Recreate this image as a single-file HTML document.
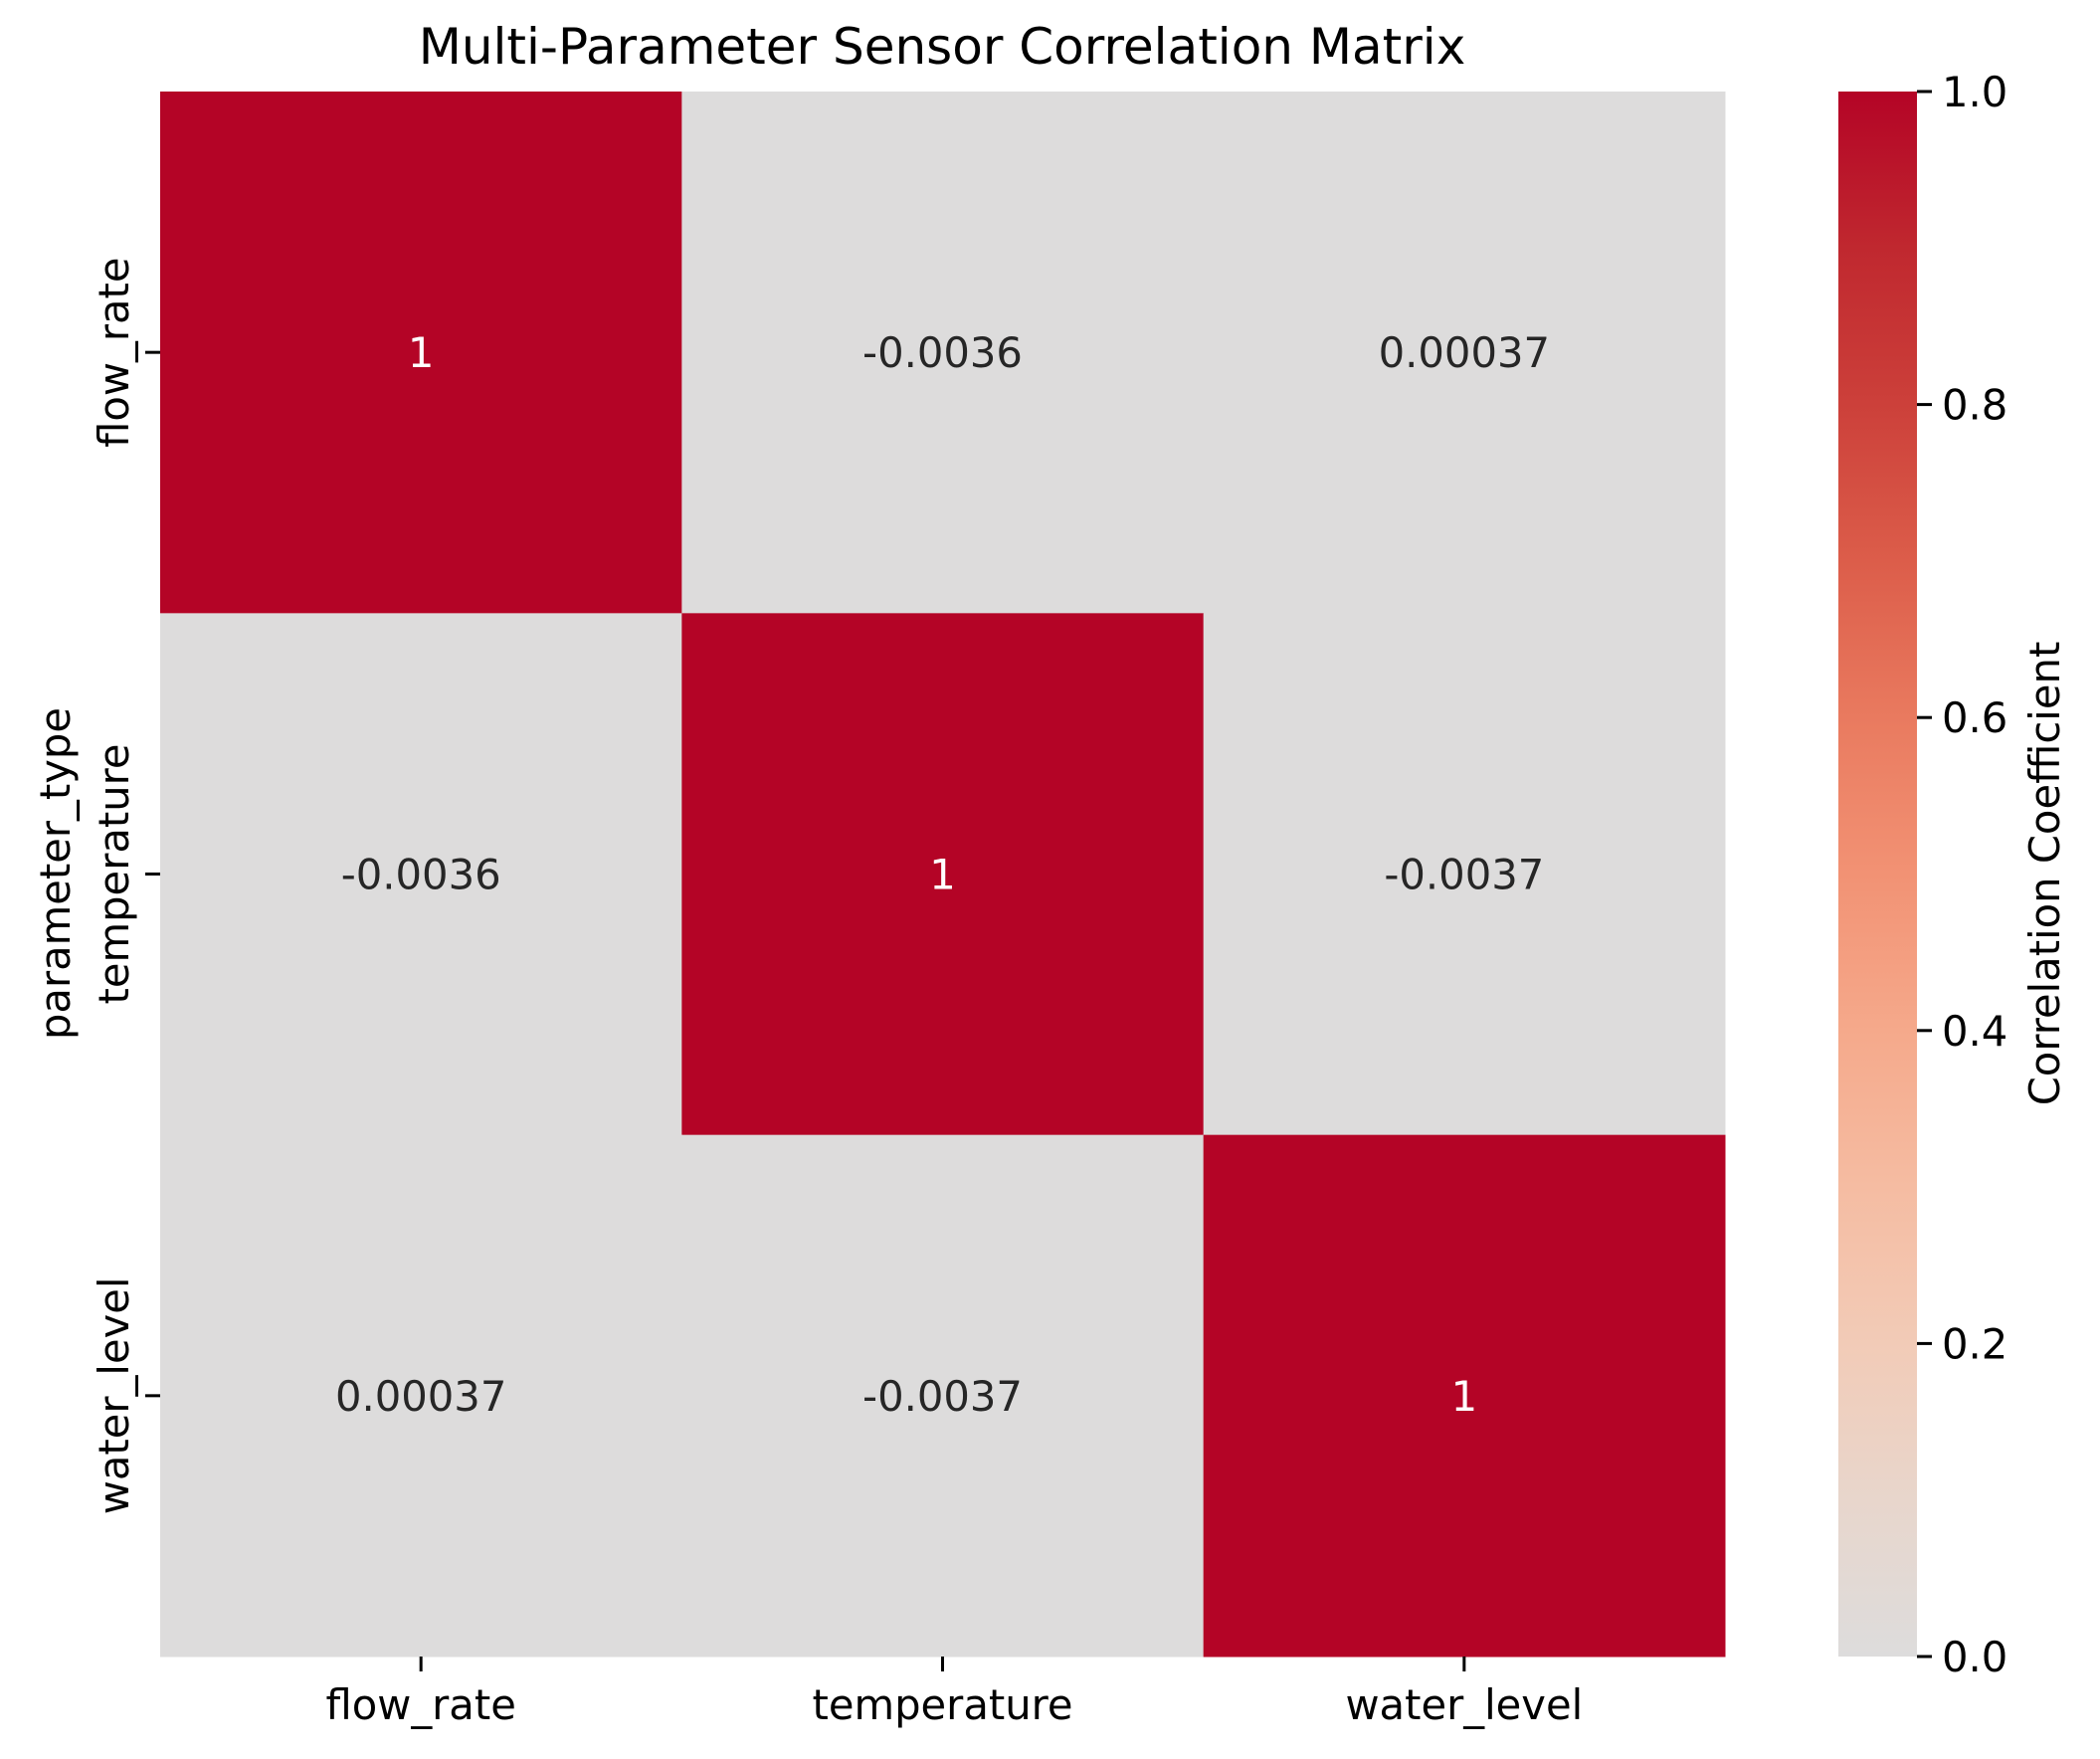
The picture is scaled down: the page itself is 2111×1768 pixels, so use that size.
<!DOCTYPE html>
<html><head><meta charset="utf-8"><style>
html,body{margin:0;padding:0;background:#fff;}
svg{display:block;font-family:"DejaVu Sans","Liberation Sans",sans-serif;}
</style></head><body>
<svg id="chart" width="2111" height="1768" viewBox="0 0 2111 1768" xmlns="http://www.w3.org/2000/svg">
<defs>
<linearGradient id="cg" x1="0" y1="1" x2="0" y2="0">
<stop offset="0" stop-color="#dddcdc"/>
<stop offset="0.1" stop-color="#e8d6cc"/>
<stop offset="0.2" stop-color="#f2cbb7"/>
<stop offset="0.3" stop-color="#f5bca2"/>
<stop offset="0.4" stop-color="#f5a98b"/>
<stop offset="0.5" stop-color="#f29274"/>
<stop offset="0.6" stop-color="#e97a5f"/>
<stop offset="0.7" stop-color="#dc5d4a"/>
<stop offset="0.8" stop-color="#cc403a"/>
<stop offset="0.9" stop-color="#c0282f"/>
<stop offset="1" stop-color="#b40426"/>
</linearGradient>
</defs>
<g id="heat"></g>
<g id="ann"></g>
<g id="axes"></g>
<text x="947" y="64" font-size="50" text-anchor="middle" fill="#000">Multi-Parameter Sensor Correlation Matrix</text>
<text transform="translate(70,878) rotate(-90)" font-size="41.7" text-anchor="middle" fill="#000">parameter_type</text>
<rect x="1848" y="92" width="79" height="1573" fill="url(#cg)"/>
<g id="cbticks"></g>
<text transform="translate(2070,878) rotate(-90)" font-size="41.7" text-anchor="middle" fill="#000">Correlation Coefficient</text>
</svg>
<script>
const labels = ["flow_rate","temperature","water_level"];
const values = [
  [1, -0.0036, 0.00037],
  [-0.0036, 1, -0.0037],
  [0.00037, -0.0037, 1]
];
const valueText = [
  ["1","-0.0036","0.00037"],
  ["-0.0036","1","-0.0037"],
  ["0.00037","-0.0037","1"]
];
const cbTicks = [0.0,0.2,0.4,0.6,0.8,1.0];
const cbTickLabels = ["0.0","0.2","0.4","0.6","0.8","1.0"];

const NS="http://www.w3.org/2000/svg";
const L=161,T=92,W=1573,H=1573;
const n=labels.length, cw=W/n, ch=H/n;
const xPos=i=>L+i*cw, yPos=j=>T+j*ch;
const cbY=v=>T+H-(v-0)/(1-0)*H;
function lerp(a,b,t){return Math.round(a+(b-a)*t);}
const stops=[[0,[221,220,220]],[0.1,[232,214,204]],[0.2,[242,203,183]],[0.3,[245,188,162]],[0.4,[245,169,139]],[0.5,[242,146,116]],[0.6,[233,122,95]],[0.7,[220,93,74]],[0.8,[204,64,58]],[0.9,[192,40,47]],[1,[180,4,38]]];
function color(v){v=Math.max(0,Math.min(1,v));for(let k=1;k<stops.length;k++){if(v<=stops[k][0]){const a=stops[k-1],b=stops[k];const t=(v-a[0])/(b[0]-a[0]);return `rgb(${lerp(a[1][0],b[1][0],t)},${lerp(a[1][1],b[1][1],t)},${lerp(a[1][2],b[1][2],t)})`;}}return "rgb(180,4,38)";}
function mk(tag,attrs,parent){const e=document.createElementNS(NS,tag);for(const k in attrs)e.setAttribute(k,attrs[k]);parent.appendChild(e);return e;}
const heat=document.getElementById('heat'),ann=document.getElementById('ann'),axes=document.getElementById('axes'),cbt=document.getElementById('cbticks');
for(let r=0;r<n;r++)for(let c=0;c<n;c++){
  const v=values[r][c];
  const rect=mk('rect',{x:xPos(c),y:yPos(r),width:cw+0.5,height:ch+0.5,fill:color(v)},heat);
  
  
  const t=mk('text',{x:xPos(c)+cw/2,y:yPos(r)+ch/2+15,'font-size':41.7,'text-anchor':'middle',fill:v>0.5?'#fff':'#262626'},ann);
  t.textContent=valueText[r][c];
  
  
}
labels.forEach((lab,i)=>{
  const cx=xPos(i)+cw/2;
  const tk=mk('line',{x1:cx,y1:T+H,x2:cx,y2:T+H+15,stroke:'#000','stroke-width':3},axes);
  
  
  const tl=mk('text',{x:cx,y:1728,'font-size':41.7,'text-anchor':'middle',fill:'#000'},axes);
  tl.textContent=lab;
  
  
  const cy=yPos(i)+ch/2;
  const yk=mk('line',{x1:L-15,y1:cy,x2:L,y2:cy,stroke:'#000','stroke-width':3},axes);
  
  
  const yl=mk('text',{transform:`translate(129,${cy}) rotate(-90)`,'font-size':41.7,'text-anchor':'middle',fill:'#000'},axes);
  yl.textContent=lab;
  
  
});
cbTicks.forEach((v,i)=>{
  const y=cbY(v);
  const k=mk('line',{x1:1927,y1:y,x2:1942,y2:y,stroke:'#000','stroke-width':3},cbt);
  
  
  const t=mk('text',{x:1952,y:y+15,'font-size':41.7,fill:'#000'},cbt);
  t.textContent=cbTickLabels[i];
  
  
});
</script>
</body></html>
